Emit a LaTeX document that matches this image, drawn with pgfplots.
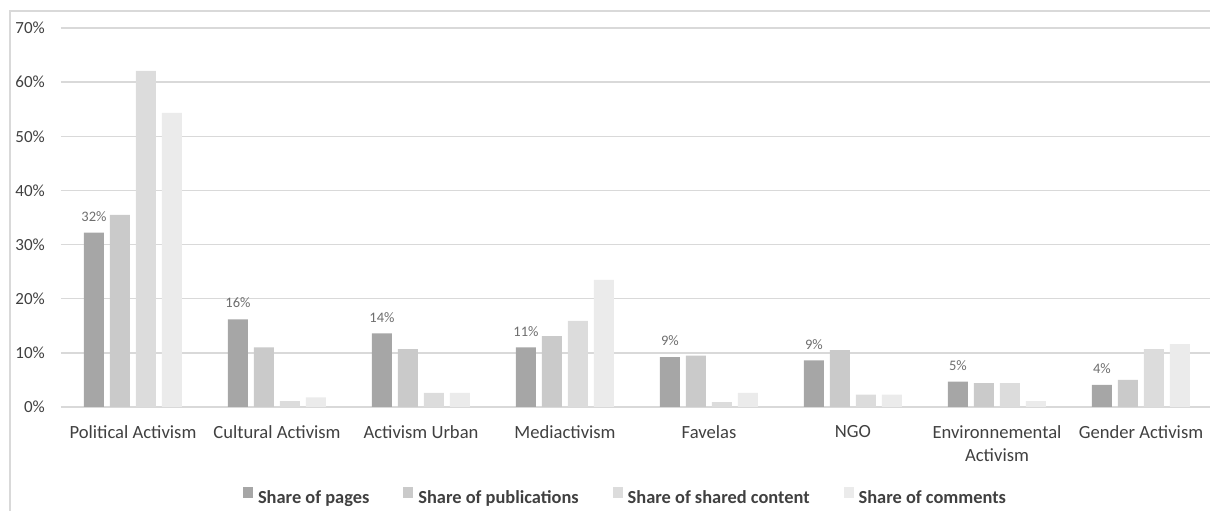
\documentclass[border=0pt]{standalone}
\usepackage{fontspec}
\setmainfont{Carlito}
\usepackage{pgfplots}
\usepackage{pgfplotstable}
\pgfplotsset{compat=1.18}
\definecolor{cA}{HTML}{A6A6A6}
\definecolor{cB}{HTML}{CACACA}
\definecolor{cC}{HTML}{DCDCDC}
\definecolor{cD}{HTML}{EBEBEB}
\definecolor{gridc}{HTML}{D9D9D9}
\definecolor{txt}{HTML}{404040}
\definecolor{lbl}{HTML}{6E6E6E}
\pgfplotstableread{
x pages pubs shared comments
0 32.2 35.5 62.1 54.3
1 16.2 11.0 1.1 1.8
2 13.6 10.7 2.6 2.6
3 11.0 13.1 15.9 23.5
4 9.2 9.5 0.9 2.6
5 8.6 10.5 2.3 2.3
6 4.7 4.4 4.4 1.1
7 4.1 5.0 10.7 11.6
}\datatable
\begin{document}
\begin{tikzpicture}[x=1pt,y=1pt]
\useasboundingbox (0,0) rectangle (1210,511);
\draw[color=gridc, line width=1.3pt] (10,-5) -- (10,500) -- (1220,500);
\begin{axis}[
  at={(61pt,104pt)}, anchor=south west,
  scale only axis, width=1152pt, height=379pt,
  ymin=0, ymax=70, xmin=-0.5, xmax=7.5,
  ytick={0,10,...,70},
  xtick={0,...,7},
  xticklabels={Political Activism, Cultural Activism, Activism Urban, Mediactivism, Favelas, NGO, {Environnemental\\Activism}, Gender Activism},
  /pgf/number format/assume math mode=true,
  yticklabel={\pgfmathprintnumber{\tick}\%},
  yticklabel style={font=\fontsize{17}{20}\selectfont, color=txt, anchor=east, inner sep=0pt, xshift=-16pt},
  xticklabel style={font=\fontsize{18.6}{23.3}\selectfont, color=txt, align=center, anchor=north, inner sep=0pt, yshift=-18pt},
  major tick length=0pt,
  axis line style={draw=none},
  ymajorgrids,
  major grid style={color=gridc, line width=1.3pt},
  ybar=6pt, bar width=20pt,
  legend columns=-1,
  legend style={draw=none, fill=none, inner sep=0pt, outer sep=0pt,
    at={(axis description cs:0.158,-0.2348)}, anchor=west,
    font=\fontsize{18.4}{21}\selectfont\bfseries, text=txt,
    nodes={inner sep=0pt},
    /tikz/every odd column/.append style={column sep=5pt},
    /tikz/every even column/.append style={column sep=34pt}},
  legend image code/.code={\fill[#1] (0pt,-0.5pt) rectangle (10pt,10.5pt);},
]
\addplot[fill=cA, draw=none,
  nodes near coords={\pgfmathprintnumber[fixed,precision=0]{\pgfplotspointmeta}\%},
  point meta=y,
  every node near coord/.append style={font=\fontsize{14.5}{16}\selectfont, color=lbl, anchor=south, inner sep=0pt, yshift=11pt}]
  table[x=x,y=pages]{\datatable};
\addlegendentry{Share of pages}
\addplot[fill=cB, draw=none] table[x=x,y=pubs]{\datatable};
\addlegendentry{Share of publications}
\addplot[fill=cC, draw=none] table[x=x,y=shared]{\datatable};
\addlegendentry{Share of shared content}
\addplot[fill=cD, draw=none] table[x=x,y=comments]{\datatable};
\addlegendentry{Share of comments}
\end{axis}
\end{tikzpicture}
\end{document}
